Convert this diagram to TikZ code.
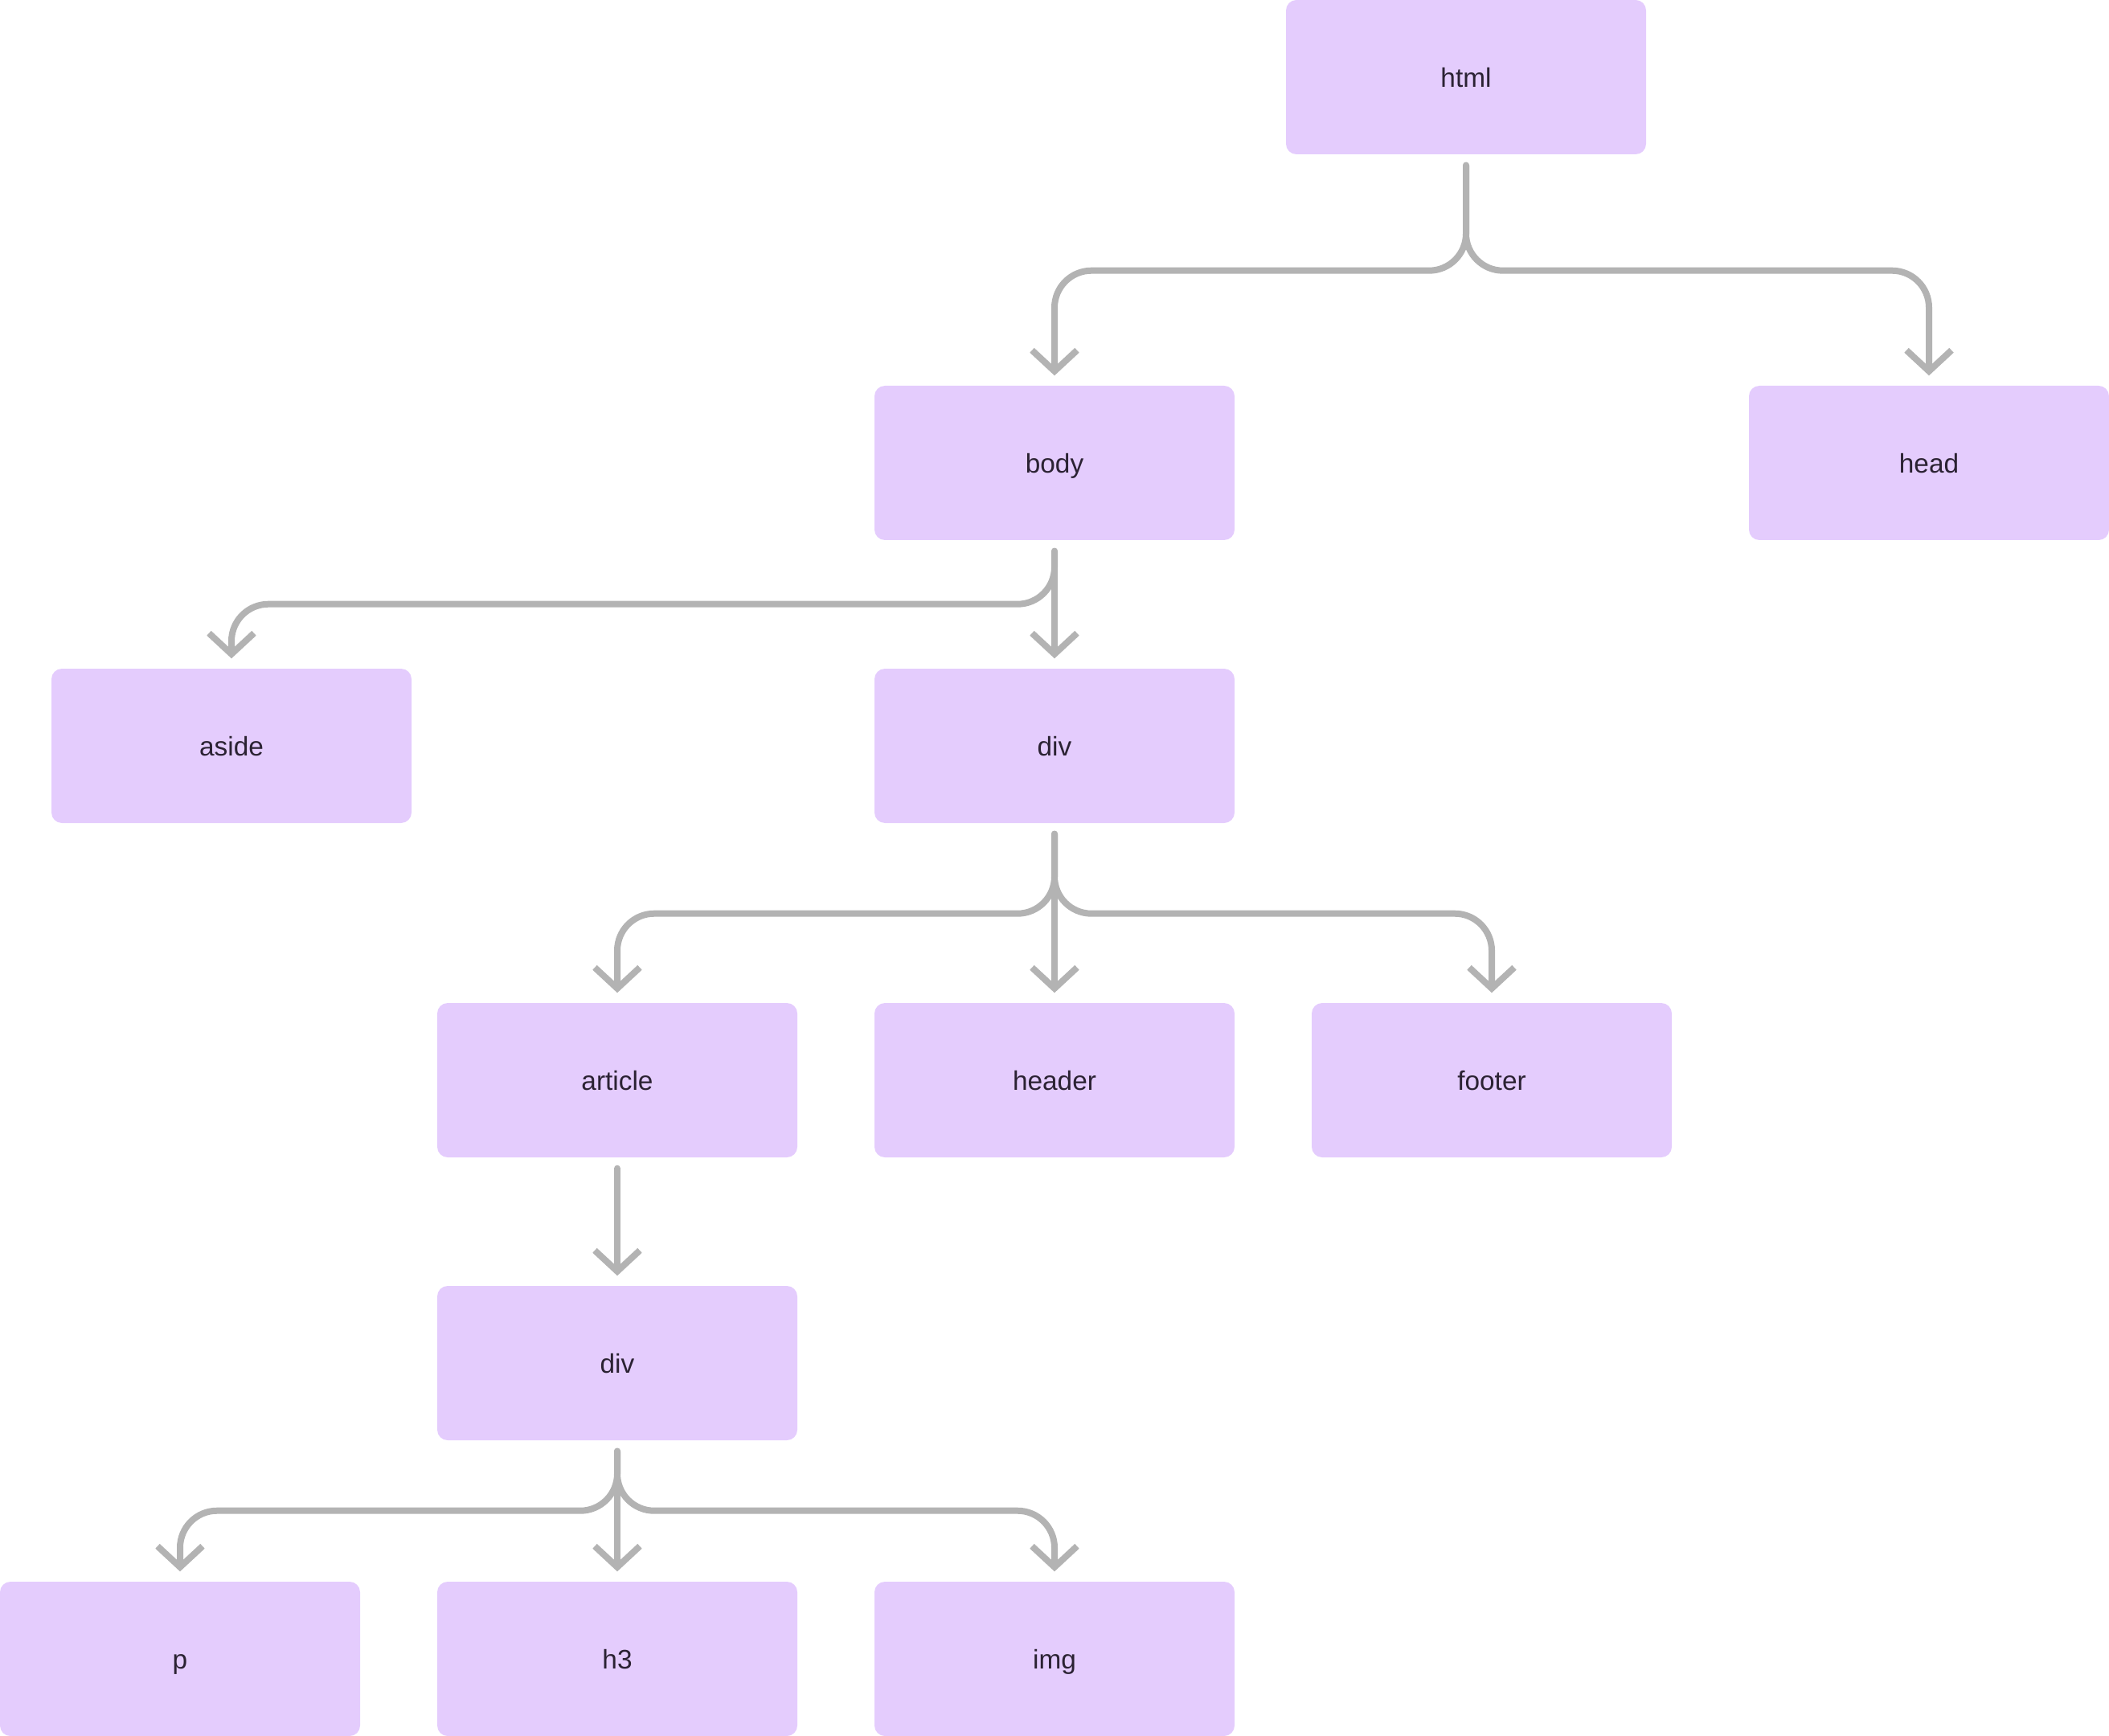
\documentclass[tikz,border=0pt]{standalone}
\usepackage{fontspec}
\setmainfont{Liberation Sans}
\usetikzlibrary{arrows.meta,positioning}
\definecolor{tagfill}{HTML}{E4CCFD}
\definecolor{tagtext}{HTML}{2B2233}
\definecolor{linkgray}{HTML}{B3B3B3}
\tikzset{
    tag/.style={
        fill=tagfill,rounded corners=0.13cm,inner sep=0pt,
        minimum width=4.48cm,minimum height=1.92cm,
        text height=0.92em,text depth=0.21em,
        text=tagtext,font=\fontsize{9.5}{11}\selectfont
    },
    link/.style={
        -{Straight Barb[length=0.26cm,width=0.56cm]},
        line width=0.08cm,line cap=round,draw=linkgray,
        rounded corners=0.46cm
    }
}

\begin{document}
\begin{tikzpicture}

\useasboundingbox (0,0) rectangle (26.24,-21.6);

% tree levels
\node[tag] (html) at (18.24,-0.96) {html};

\node[tag] (body) at (13.12,-5.76) {body};
\node[tag] (head) at (24.00,-5.76) {head};

\node[tag] (aside) at (2.88,-9.28) {aside};
\node[tag] (div) at (13.12,-9.28) {div};

\node[tag] (article) at (7.68,-13.44) {article};
\node[tag] (header) at (13.12,-13.44) {header};
\node[tag] (footer) at (18.56,-13.44) {footer};

\node[tag] (innerdiv) at (7.68,-16.96) {div};

\node[tag] (p) at (2.24,-20.64) {p};
\node[tag] (h3) at (7.68,-20.64) {h3};
\node[tag] (img) at (13.12,-20.64) {img};

% html children
\draw[link]([yshift=-0.13cm]html.south)--++(0,-1.31)-|([yshift=0.12cm]body.north);
\draw[link]([yshift=-0.13cm]html.south)--++(0,-1.31)-|([yshift=0.12cm]head.north);

% body children
\draw[link]([yshift=-0.13cm]body.south)--++(0,-0.66)-|([yshift=0.12cm]aside.north);
\draw[link]([yshift=-0.13cm]body.south)--([yshift=0.12cm]div.north);

% div children
\draw[link]([yshift=-0.13cm]div.south)--++(0,-0.99)-|([yshift=0.12cm]article.north);
\draw[link]([yshift=-0.13cm]div.south)--([yshift=0.12cm]header.north);
\draw[link]([yshift=-0.13cm]div.south)--++(0,-0.99)-|([yshift=0.12cm]footer.north);

\draw[link]([yshift=-0.13cm]article.south)--([yshift=0.12cm]innerdiv.north);

% inner div children
\draw[link]([yshift=-0.13cm]innerdiv.south)--++(0,-0.74)-|([yshift=0.12cm]p.north);
\draw[link]([yshift=-0.13cm]innerdiv.south)--([yshift=0.12cm]h3.north);
\draw[link]([yshift=-0.13cm]innerdiv.south)--++(0,-0.74)-|([yshift=0.12cm]img.north);

\end{tikzpicture}
\end{document}
